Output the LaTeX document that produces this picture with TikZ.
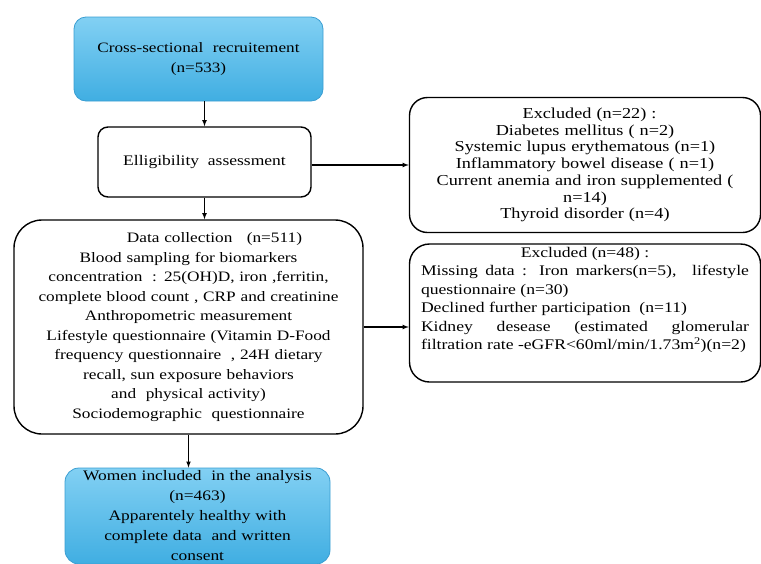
\documentclass[tikz,border=0pt]{standalone}
\usepackage{fontspec}
\setmainfont[FakeStretch=1.2]{Liberation Serif}
\usetikzlibrary{calc}

\definecolor{boxblue}{RGB}{64,174,226}
\definecolor{boxbluetop}{RGB}{130,208,243}
\definecolor{boxblueedge}{RGB}{58,158,210}

\begin{document}
\begin{tikzpicture}[
    x=1pt, y=-1pt,
    box/.style={draw=black,line width=1.4pt,fill=white,inner sep=2pt,align=center,font=\fontsize{14.6}{16.7}\selectfont},
    bluebox/.style={box,draw=boxblueedge,line width=0.8pt,top color=boxbluetop,bottom color=boxblue,font=\fontsize{14.5}{20}\selectfont},
    link/.style={-latex,black,line width=1.1pt}
]
    \useasboundingbox (0,0) rectangle (761,563);

    % Main column
    \node[bluebox,rounded corners=12pt,minimum width=249pt,minimum height=84pt,text width=240pt,font=\fontsize{14.3}{20}\selectfont]
        (recruit) at (198.5,59) {Cross-sectional\ \ recruitement\\(n=533)};
    \node[box,rounded corners=10pt,minimum width=213pt,minimum height=70pt,font=\fontsize{14.6}{17}\selectfont]
        (elig) at (204.5,162) {Elligibility\ \ assessment};
    \node[box,rounded corners=28pt,minimum width=349pt,minimum height=214pt,text width=340pt,font=\fontsize{14.4}{19.5}\selectfont]
        (data) at (188.5,327) {\hspace*{3.6em}Data collection\ \ \ (n=511)\\
        Blood sampling for biomarkers\\
        concentration\ \ : 25(OH)D, iron ,ferritin,\\
        complete blood count , CRP and creatinine\\
        Anthropometric measurement\\
        Lifestyle questionnaire (Vitamin D-Food\\
        frequency questionnaire\ \ , 24H dietary\\
        recall, sun exposure behaviors\\
        and\ \ physical activity)\\
        Sociodemographic\ \ questionnaire};
    \node[bluebox,rounded corners=14pt,minimum width=265pt,minimum height=96pt,text width=256pt]
        (final) at (197.5,516) {Women included\ \ in the analysis\\
        (n=463)\\
        Apparentely healthy with\\
        complete data\ \ and written\\
        consent};

    %%%%%%%%%%%%%%%%%%%%%%%%%%%%%%%%%%%%%%%%%%%%%%%%%%%%%%%%%%%%%%%%%%%%%%%%%%%%%%%%%%%%

    % Exclusions
    \node[box,rounded corners=18pt,minimum width=351pt,minimum height=135pt,text width=340pt,font=\fontsize{15.2}{16.7}\selectfont]
        (excl1) at (585,165) {\hspace*{0.6em}Excluded (n=22) :\\
        Diabetes mellitus ( n=2)\\
        Systemic lupus erythematous (n=1)\\
        Inflammatory bowel disease ( n=1)\\
        Current anemia and iron supplemented (\\
        n=14)\\
        Thyroid disorder (n=4)};
    \node[box,rounded corners=20pt,minimum width=351pt,minimum height=138pt,text width=328pt,align=justify,font=\fontsize{14.7}{18.4}\selectfont]
        (excl2) at (585,313) {\centerline{Excluded (n=48) :}
        \makebox[328pt][s]{Missing data : Iron markers(n=5), \ lifestyle}\\
        questionnaire (n=30)\\
        Declined further participation\ \ (n=11)\\
        \makebox[328pt][s]{Kidney desease (estimated glomerular}\\
        filtration rate -eGFR<60ml/min/1.73m\textsuperscript{2})(n=2)\par\nointerlineskip\kern26pt\hbox{}};

    % Connectors
    \draw[link] (elig.north |- recruit.south) -- (elig.north);
    \draw[link] (elig.south) -- (elig.south |- data.north);
    \draw[link] (data.south) -- (data.south |- final.north);
    \draw[link] (excl1.west -| elig.east) -- (excl1.west);
    \draw[link] (data.east) -- (data.east -| excl2.west);
\end{tikzpicture}
\end{document}
